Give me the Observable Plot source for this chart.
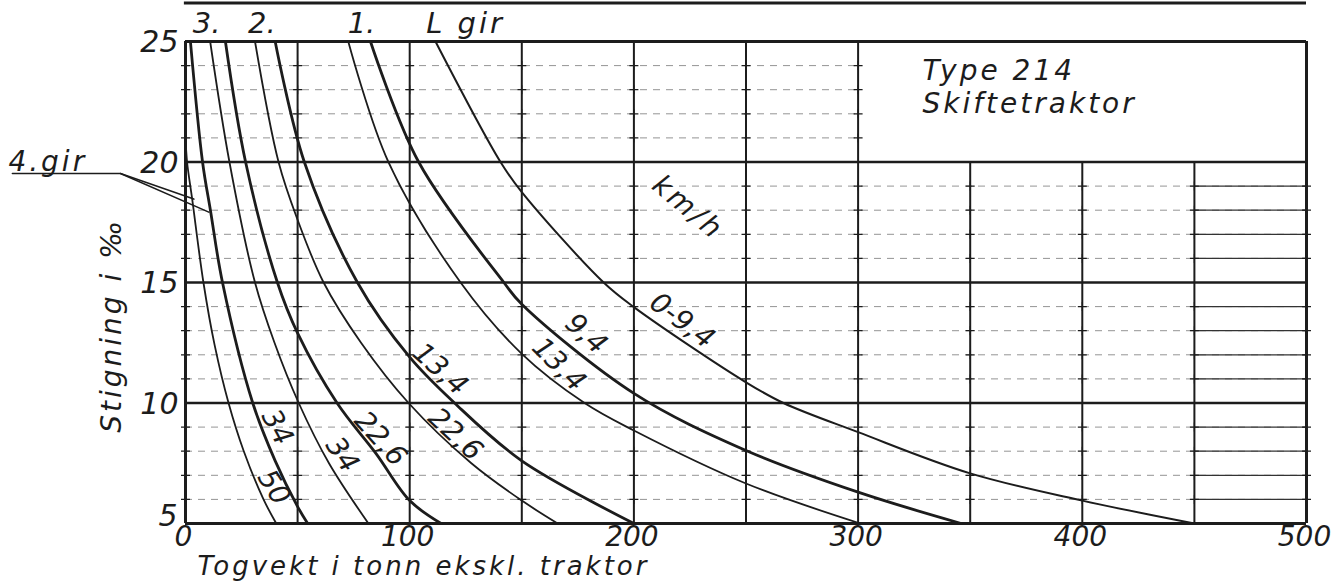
<!DOCTYPE html>
<html>
<head>
<meta charset="utf-8">
<script src="https://cdn.jsdelivr.net/npm/d3@7"></script>
<script src="https://cdn.jsdelivr.net/npm/@observablehq/plot@0.6"></script>
<style>
  html, body { margin: 0; padding: 0; background: #fff; }
</style>
</head>
<body>
<div id="chart"></div>
<script>
// ---- tick labels and grid ----
const xTicks = [0, 100, 200, 300, 400, 500];
const yTicks = [10, 15, 20, 25];
const yTickBottom = [5];
const gridXFull = [0, 50, 100, 150, 200, 250, 300, 500];
const gridXLow = [350, 400, 450];          // stop at 20 ‰ (box above)
const majorY = [10, 15, 20];
const frameY = [5, 25];
const minorY = [6, 7, 8, 9, 11, 12, 13, 14, 16, 17, 18, 19];
const minorYTop = [21, 22, 23, 24];         // only left of the box
const headerY = [26.6];                      // cut-off frame of the chart above

// ---- curves: [tonnes, ‰] ----
const gears  = ["4. gir", "4. gir", "3.", "3.", "2.", "2.", "1.", "1.", "L gir"];
const speeds = ["50", "34", "34", "22,6", "22,6", "13,4", "13,4", "9,4", "0-9,4"];
const weight = [1.8, 2.8, 1.8, 2.8, 1.8, 2.8, 1.8, 2.8, 2.0];

const curve4a = [[0, 21.0], [0.7, 20], [3, 18.45], [8, 15], [13, 12.4], [19.2, 10], [26, 8], [34.8, 6], [40.5, 5]];
const curve4b = [[2.2, 25], [7.6, 20], [11.2, 17.95], [16.5, 15], [30, 10], [40, 7.6], [50, 5.7], [54.5, 5]];
const curve3a = [[11, 25], [19.6, 20], [31, 15], [39.7, 12.5], [50.5, 10], [64, 7.5], [81.6, 5]];
const curve3b = [[17.8, 25], [26.8, 20], [41, 15], [50, 12.9], [67.6, 10], [85, 7.9], [100, 5.95], [114, 5]];
const curve2a = [[31, 25], [41.5, 20], [50, 17.6], [61.6, 15], [78.3, 12.5], [99.5, 10], [127.5, 7.5], [150, 5.95], [166, 5]];
const curve2b = [[40, 25], [53, 20], [76.7, 15], [100, 11.9], [120, 10], [150, 7.6], [200, 5]];
const curve1a = [[72.6, 25], [90.5, 20], [122.7, 15], [150, 12.04], [178, 10], [200, 8.86], [250, 6.66], [301, 5]];
const curve1b = [[82.5, 25], [104, 20], [142, 15], [150, 14.1], [200, 10.4], [250, 8.03], [300, 6.3], [346, 5]];
const curveL  = [[111.5, 25], [140.5, 20], [150, 18.75], [186.5, 15], [200, 13.98], [250, 10.86], [266.7, 10], [300, 8.79], [350, 7.08], [400, 5.95], [450, 5]];
const curves = [curve4a, curve4b, curve3a, curve3b, curve2a, curve2b, curve1a, curve1b, curveL];

// speed labels written along the curves: [x, y, rotation]
const speedLabelPos = [[39.4, 6.5, 58], [40.9, 8.99, 62], [69.9, 7.86, 55], [87, 8.51, 48], [120.4, 8.7, 43], [113.7, 11.4, 42], [166.5, 11.6, 45], [178.7, 12.87, 42], [221.5, 13.42, 37]];

// gear labels above the frame
const gearTop = ["3.", "2.", "1.", "L gir"];
const gearTopX = [9.4, 34.1, 78.5, 124.9];

// pointer of "4.gir"
const pointer = [
  {id: 0, x: -77.2, y: 19.52}, {id: 0, x: -29, y: 19.52}, {id: 0, x: 3.7, y: 18.46},
  {id: 1, x: -29, y: 19.52}, {id: 1, x: 10.4, y: 17.92}
];

const ink = "#1c1c1c";

const rows = curves.flatMap((pts, i) => pts.map(([x, y]) => ({x, y, id: i, w: weight[i]})));
const crosses = [...gridXFull, ...gridXLow].flatMap(gx => minorY.map(my => ({x: gx, y: my})))
  .concat(gridXFull.filter(g => g <= 300).flatMap(gx => minorYTop.map(my => ({x: gx, y: my}))));
const labels = speeds.map((s, i) => ({text: s, x: speedLabelPos[i][0], y: speedLabelPos[i][1], r: speedLabelPos[i][2]}));

const chart = Plot.plot({
  width: 1341,
  height: 583,
  marginLeft: 185,
  marginRight: 35,
  marginTop: 41,
  marginBottom: 60,
  x: {domain: [0, 500], axis: null},
  y: {domain: [5, 25], axis: null},
  style: {fontFamily: "DejaVu Sans", fontStyle: "oblique", fontSize: "28px", color: ink, background: "#fff"},
  marks: [
    // minor dashed grid
    Plot.ruleY(minorY, {x1: 0, x2: 500, stroke: "#666", strokeWidth: 1, strokeDasharray: "7,6", strokeOpacity: 0.7}),
    Plot.ruleY(minorYTop, {x1: 0, x2: 300, stroke: "#666", strokeWidth: 1, strokeDasharray: "7,6", strokeOpacity: 0.7}),
    Plot.ruleY(minorY, {x1: 450, x2: 500, stroke: "#333", strokeWidth: 1.2}),
    Plot.dot(crosses, {x: "x", y: "y", symbol: "plus", r: 3, stroke: ink, strokeWidth: 1.2}),
    // major grid
    Plot.ruleX(gridXFull, {y1: 5, y2: 25, stroke: ink, strokeWidth: 2}),
    Plot.ruleX(gridXLow, {y1: 5, y2: 20, stroke: ink, strokeWidth: 2}),
    Plot.ruleY(majorY, {x1: 0, x2: 500, stroke: ink, strokeWidth: 2.4}),
    Plot.ruleY(frameY, {x1: 0, x2: 500, stroke: ink, strokeWidth: 3}),
    Plot.ruleX([0, 500], {y1: 5, y2: 25, stroke: ink, strokeWidth: 3}),
    Plot.ruleY(headerY, {x1: -0.5, x2: 500, stroke: ink, strokeWidth: 3}),
    // curves
    Plot.line(rows, {x: "x", y: "y", z: "id", curve: "catmull-rom", stroke: ink, strokeWidth: "w"}),
    // speed labels
    Plot.text(labels, {x: "x", y: "y", text: "text", rotate: "r", fill: ink, fontSize: 28}),
    Plot.text(["km/h"], {x: 224.1, y: 18.11, rotate: 40, fill: ink, fontSize: 28}),
    // gear labels
    Plot.text(gearTop, {x: (d, i) => gearTopX[i], y: 25.72, text: d => d, fill: ink, fontSize: 29, fontWeight: d => d === "3." ? "bold" : "normal"}),
    Plot.line(pointer, {x: "x", y: "y", z: "id", stroke: ink, strokeWidth: 1.6}),
    Plot.text(["4.gir"], {x: -79, y: 20.0, textAnchor: "start", fill: ink, fontSize: 28}),
    // box text
    Plot.text(["Type 214", "Skiftetraktor"], {x: 328.7, y: [23.76, 22.42], textAnchor: "start", fill: ink, fontSize: 28}),
    // tick labels
    Plot.text(yTicks, {x: 0, y: d => d, text: d => d, dx: -7, dy: 1, textAnchor: "end", fill: ink, fontSize: 30}),
    Plot.text(yTickBottom, {x: 0, y: d => d, text: d => d, dx: -8, dy: -7, textAnchor: "end", fill: ink, fontSize: 30}),
    Plot.text(xTicks, {x: d => d, y: 5, text: d => d, dx: -2, dy: 14, fill: ink, fontSize: 28}),
    // axis titles
    Plot.text(["Togvekt i tonn ekskl. traktor"], {x: 5.4, y: 3.2, textAnchor: "start", fill: ink, fontSize: 26}),
    Plot.text(["Stigning i ‰"], {x: -32.6, y: 13.22, rotate: -90, fill: ink, fontSize: 28})
  ]
});

document.getElementById("chart").appendChild(chart);
d3.select(chart).selectAll("text")
  .filter(function () { return /[A-Za-z‰]/.test(this.textContent); })
  .attr("letter-spacing", "3px");
</script>
</body>
</html>
